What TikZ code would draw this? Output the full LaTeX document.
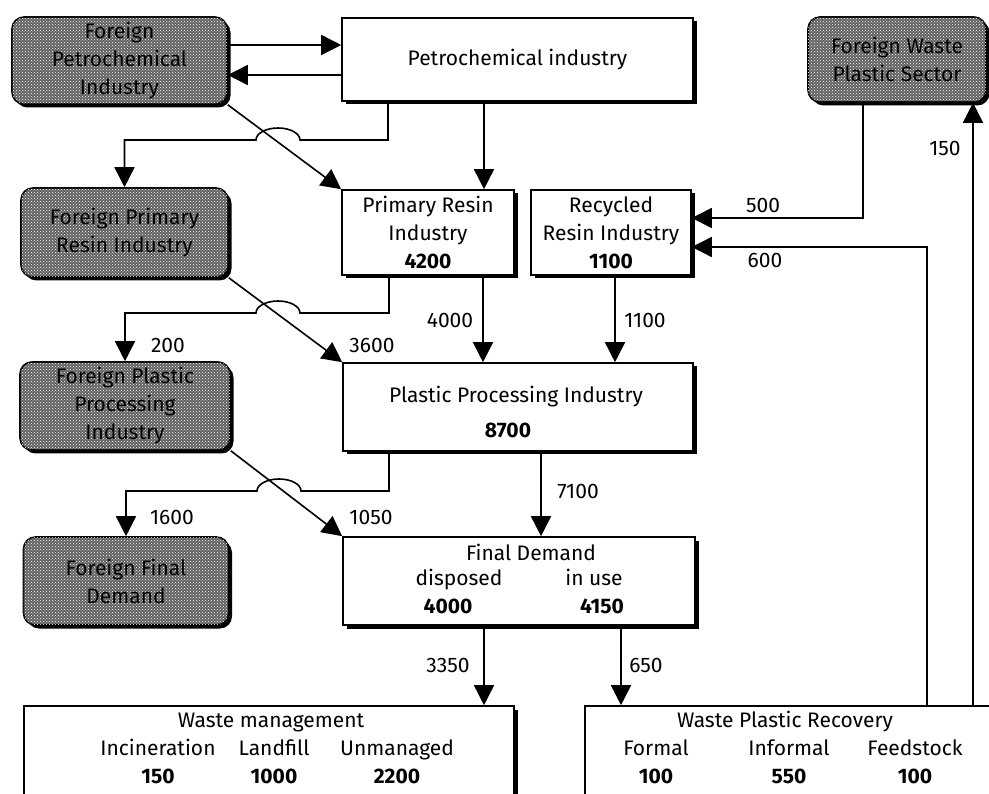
\documentclass[tikz,border=0pt]{standalone}
\usepackage{fontspec}
\setmainfont{Fira Sans}
\usetikzlibrary{arrows.meta,shadows,patterns,calc}

\begin{document}
\begin{tikzpicture}[x=1pt,y=-1pt,
  font=\fontsize{21}{28}\selectfont,
  flow/.style={line width=1.6pt,-{Triangle[length=20pt,width=20pt]}},
  shade3/.style={drop shadow={shadow xshift=3.5pt,shadow yshift=-3.5pt,opacity=1,fill=black}},
  sector/.style={draw,line width=1.6pt,fill=white,inner sep=0pt,align=center,shade3},
  foreign/.style={draw,line width=1.6pt,rounded corners=12pt,fill=black!62,
    postaction={pattern=crosshatch dots,pattern color=white},
    inner sep=0pt,align=center,shade3},
  lbl/.style={inner sep=0pt,text height=15pt,text depth=4pt},
  val/.style={lbl,font=\fontsize{21}{28}\selectfont\bfseries}
]
\path[use as bounding box] (0,0) rectangle (989,794);
\clip (0,0) rectangle (989,794);
\fill[white] (0,0) rectangle (989,794);

% domestic sectors
\node[sector,minimum width=351pt,minimum height=83pt] (petro) at (517.5,59.5) {Petrochemical industry};
\node[sector,minimum width=172pt,minimum height=85pt] (primary) at (428,232.5) {Primary Resin\\Industry\\\textbf{4200}};
\node[sector,minimum width=160pt,minimum height=85pt] (recycled) at (611,232.5) {Recycled\\Resin Industry\\\textbf{1100}};
\node[sector,minimum width=350pt,minimum height=88pt] (plastic) at (518,407) {};
\node[sector,minimum width=352pt,minimum height=88pt] (final) at (519,581) {};
\node[sector,minimum width=490pt,minimum height=130pt] (waste) at (269,771) {};
\node[sector,minimum width=425pt,minimum height=130pt] (wpr) at (797.5,771) {};

% foreign sectors
\node[foreign,minimum width=215pt,minimum height=87pt] (fpetro) at (119.5,60.5) {Foreign\\Petrochemical\\Industry};
\node[foreign,minimum width=207pt,minimum height=89pt] (fpr) at (124.5,232.5) {Foreign Primary\\Resin Industry};
\node[foreign,minimum width=210pt,minimum height=88pt] (fpp) at (125,406) {Foreign Plastic\\Processing\\Industry};
\node[foreign,minimum width=205pt,minimum height=88pt] (ffd) at (126,581) {Foreign Final\\Demand};
\node[foreign,minimum width=178pt,minimum height=85pt] (fwaste) at (897,59.5) {Foreign Waste\\Plastic Sector};

% texts inside the larger boxes
\node[lbl] (pptitle) at (516,397) {Plastic Processing Industry};
\node[val] (ppval) at (508,432) {8700};
\node[lbl] (fdtitle) at (531,555) {Final Demand};
\node[lbl] (fddisp) at (459,580) {disposed};
\node[lbl] (fduse) at (594,580) {in use};
\node[val] (fddispv) at (448,608) {4000};
\node[val] (fdusev) at (602,608) {4150};
\node[lbl] (wmtitle) at (271,722) {Waste management};
\node[lbl] (wminc) at (158,750) {Incineration};
\node[lbl] (wmland) at (274,750) {Landfill};
\node[lbl] (wmunm) at (397,750) {Unmanaged};
\node[val] (wmincv) at (158,778) {150};
\node[val] (wmlandv) at (274,778) {1000};
\node[val] (wmunmv) at (397,778) {2200};
\node[lbl] (wrtitle) at (785,722) {Waste Plastic Recovery};
\node[lbl] (wrform) at (656,750) {Formal};
\node[lbl] (wrinf) at (789,750) {Informal};
\node[lbl] (wrfeed) at (915,750) {Feedstock};
\node[val] (wrformv) at (656,778) {100};
\node[val] (wrinfv) at (789,778) {550};
\node[val] (wrfeedv) at (915,778) {100};

% exchange with the foreign petrochemical industry
\draw[flow] (fpetro.east |- 0,45) -- (petro.west |- 0,45);
\draw[flow] (petro.west |- 0,75) -- (fpetro.east |- 0,75);

% resin stage
\draw[flow] (petro.south -| 484,0) -- (primary.north -| 484,0);
\draw[flow] (fpetro.south east) -- (primary.north west);
\draw[flow] (petro.south -| 388,0) -- (388,140) -- (300,140)
  arc[start angle=0,end angle=180,x radius=22pt,y radius=12pt]
  -- (fpr.north |- 0,140) -- (fpr.north);
\draw[flow] (fwaste.south -| 863,0) -- (863,218) -- (recycled.east |- 0,218);
\draw[flow] (wpr.north -| 927,0) -- (927,247) -- (recycled.east |- 0,247);
\draw[flow] (wpr.north -| 973,0) -- (fwaste.south -| 973,0);

% processing stage
\draw[flow] (primary.south -| 483,0) -- (plastic.north -| 483,0);
\draw[flow] (recycled.south -| 615,0) -- (plastic.north -| 615,0);
\draw[flow] (fpr.south east) -- (plastic.north west);
\draw[flow] (primary.south -| 389,0) -- (389,313) -- (300,313)
  arc[start angle=0,end angle=180,x radius=22pt,y radius=12pt]
  -- (fpp.north |- 0,313) -- (fpp.north);

% final demand stage
\draw[flow] (plastic.south -| 541,0) -- (final.north -| 541,0);
\draw[flow] (fpp.south east) -- (final.north west);
\draw[flow] (plastic.south -| 389,0) -- (389,491) -- (301,491)
  arc[start angle=0,end angle=180,x radius=22pt,y radius=12pt]
  -- (ffd.north |- 0,491) -- (ffd.north);

% end of life
\draw[flow] (final.south -| 484,0) -- (waste.north -| 484,0);
\draw[flow] (final.south -| 621,0) -- (wpr.north -| 621,0);

% flow quantities
\node[lbl] (q200) at (168,347) {200};
\node[lbl] (q3600) at (372,347) {3600};
\node[lbl] (q4000) at (450,322) {4000};
\node[lbl] (q1100) at (645,322) {1100};
\node[lbl] (q1600) at (172,519) {1600};
\node[lbl] (q1050) at (371,519) {1050};
\node[lbl] (q7100) at (578,493) {7100};
\node[lbl] (q3350) at (448,667) {3350};
\node[lbl] (q650) at (646,667) {650};
\node[lbl] (q500) at (763,207) {500};
\node[lbl] (q600) at (765,262) {600};
\node[lbl] (q150) at (945,150) {150};
\end{tikzpicture}
\end{document}
